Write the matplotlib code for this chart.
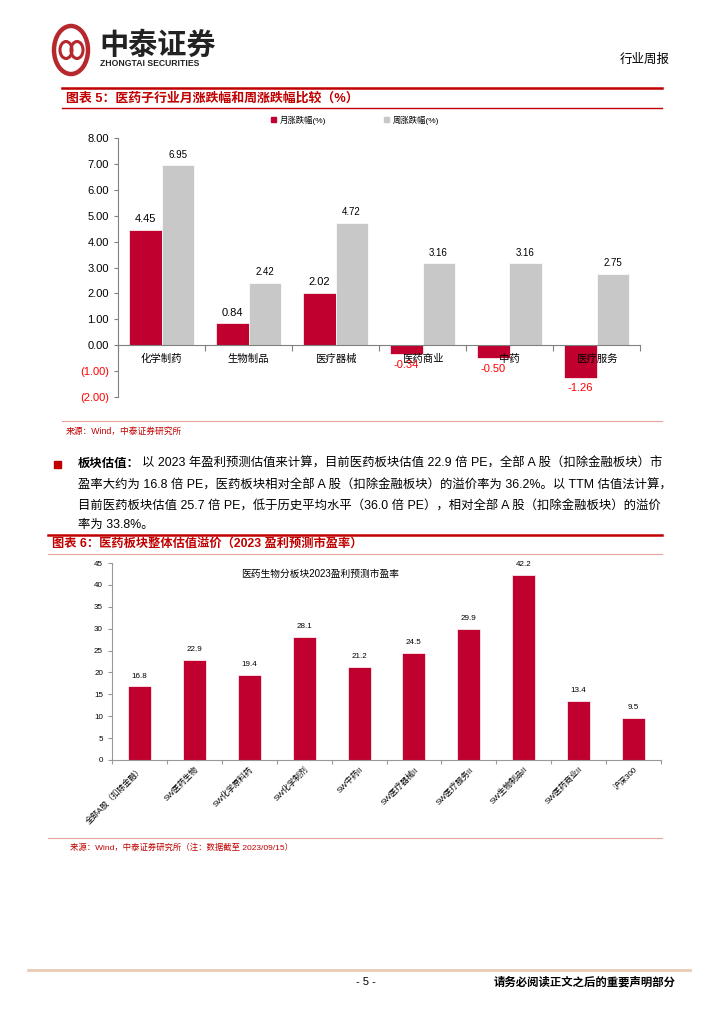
import numpy as np
import matplotlib
matplotlib.use("Agg")
import matplotlib.pyplot as plt
from matplotlib.patches import Circle, Rectangle, Patch
from matplotlib.lines import Line2D

plt.rcParams['font.family'] = ['Liberation Sans', 'Noto Sans CJK SC', 'DejaVu Sans']

# chart 1 data
sub_industries = ["化学制药", "生物制品", "医疗器械", "医药商业", "中药", "医疗服务"]
month_change = [4.45, 0.84, 2.02, -0.34, -0.50, -1.26]
week_change = [6.95, 2.42, 4.72, 3.16, 3.16, 2.75]
y1_ticks = [-2, -1, 0, 1, 2, 3, 4, 5, 6, 7, 8]

# chart 2 data
pe_labels = ["全部A股（扣除金融）", "SW医药生物", "SW化学原料药", "SW化学制剂", "SW中药II",
             "SW医疗器械II", "SW医疗服务II", "SW生物制品II", "SW医药商业II", "沪深300"]
pe_values = [16.8, 22.9, 19.4, 28.1, 21.2, 24.5, 29.9, 42.2, 13.4, 9.5]

RED = "#C0002F"
GREY = "#C8C8C8"
TITLE_RED = "#C00000"

W, H = 724, 1024
fig = plt.figure(figsize=(W / 100, H / 100), dpi=100)


def rect(x0, y0, x1, y1):
    return [x0 / W, 1 - y1 / H, (x1 - x0) / W, (y1 - y0) / H]


def fx(x):
    return x / W


def fy(y):
    return 1 - y / H


def hline(y, x0, x1, color, lw):
    fig.add_artist(Line2D([fx(x0), fx(x1)], [fy(y), fy(y)], color=color, lw=lw,
                          transform=fig.transFigure))


# header
fig.add_artist(Circle((fx(71), fy(50)), 17 / W, transform=fig.transFigure,
                      fill=False, ec="#B5282E", lw=3.2))
fig.add_artist(Circle((fx(66), fy(50)), 6 / W, transform=fig.transFigure,
                      fill=False, ec="#B5282E", lw=2.2))
fig.add_artist(Circle((fx(77), fy(50)), 6 / W, transform=fig.transFigure,
                      fill=False, ec="#B5282E", lw=2.2))
fig.text(fx(99), fy(46), "中泰证券", fontsize=21, fontweight="bold", va="center", ha="left",
         color="#222222")
fig.text(fx(100), fy(64), "ZHONGTAI SECURITIES", fontsize=6.2, fontweight="bold", va="center",
         ha="left", color="#222222")
fig.text(fx(670), fy(60), "行业周报", fontsize=9, ha="right", va="center")

# chart 1 title
hline(88, 62, 662, TITLE_RED, 1.8)
fig.text(fx(66), fy(99), "图表 5：医药子行业月涨跌幅和周涨跌幅比较（%）", fontsize=9.3,
         fontweight="bold", color=TITLE_RED, va="center", ha="left")
hline(108, 62, 662, TITLE_RED, 1.0)

# chart 1
ax1 = fig.add_axes(rect(118, 138, 640, 397))
x = np.arange(len(sub_industries))
w = 0.37
ax1.bar(x - w / 2, month_change, w, color=RED, edgecolor="white", linewidth=0.5)
ax1.bar(x + w / 2, week_change, w, color=GREY, edgecolor="white", linewidth=0.5)
ax1.set_xlim(-0.5, len(sub_industries) - 0.5)
ax1.set_ylim(-2, 8)
for s in ["top", "right"]:
    ax1.spines[s].set_visible(False)
ax1.spines["bottom"].set_position(("data", 0))
ax1.spines["bottom"].set_color("#808080")
ax1.spines["left"].set_color("#808080")
ax1.set_yticks(y1_ticks)
ax1.set_yticklabels([f"({abs(v):.2f})" if v < 0 else f"{v:.2f}" for v in y1_ticks], fontsize=8)
for lbl, v in zip(ax1.get_yticklabels(), y1_ticks):
    lbl.set_color("red" if v < 0 else "black")
ax1.tick_params(axis="y", length=3, color="#808080")
ax1.set_xticks(np.arange(-0.5, len(sub_industries), 1))
ax1.set_xticklabels([])
ax1.tick_params(axis="x", which="major", length=4, color="#808080", direction="out")
ax1.set_xticks(x, minor=True)
ax1.set_xticklabels(sub_industries, minor=True, fontsize=7.5)
ax1.tick_params(axis="x", which="minor", length=0, pad=6)

for xi, v in zip(x - w / 2, month_change):
    if v >= 0:
        ax1.annotate(f"{v:.2f}", (xi, v), xytext=(0, 4), textcoords="offset points",
                     ha="center", va="bottom", fontsize=8)
    else:
        ax1.annotate(f"{v:.2f}", (xi, v), xytext=(0, -4), textcoords="offset points",
                     ha="center", va="top", fontsize=8, color="red")
for xi, v in zip(x + w / 2, week_change):
    ax1.annotate(f"{v:.2f}", (xi, v), xytext=(0, 4), textcoords="offset points",
                 ha="center", va="bottom", fontsize=7)

fig.legend(handles=[Patch(color=RED), Patch(color=GREY)],
           labels=["月涨跌幅(%)", "周涨跌幅(%)"], loc="center",
           bbox_to_anchor=(fx(355), fy(120)), ncol=2, frameon=False, fontsize=6,
           handlelength=0.6, handleheight=0.6, handletextpad=0.4, columnspacing=7)

# source 1
hline(421, 62, 662, "#E8A0A0", 0.8)
fig.text(fx(66), fy(431), "来源：Wind，中泰证券研究所", fontsize=6.3, color=TITLE_RED,
         va="center", ha="left")

# paragraph
fig.add_artist(Rectangle((fx(54), fy(468)), 7 / W, 7 / H, transform=fig.transFigure,
                         color=TITLE_RED))
fig.text(fx(78), fy(464), "板块估值：", fontsize=8.9, fontweight="bold", va="center", ha="left")
para = [
    (142, 464, "以 2023 年盈利预测估值来计算，目前医药板块估值 22.9 倍 PE，全部 A 股（扣除金融板块）市"),
    (78, 486, "盈率大约为 16.8 倍 PE，医药板块相对全部 A 股（扣除金融板块）的溢价率为 36.2%。以 TTM 估值法计算，"),
    (78, 507, "目前医药板块估值 25.7 倍 PE，低于历史平均水平（36.0 倍 PE），相对全部 A 股（扣除金融板块）的溢价"),
    (78, 525, "率为 33.8%。"),
]
for px, py, line in para:
    fig.text(fx(px), fy(py), line, fontsize=8.9, va="center", ha="left")

# chart 2 title
hline(535, 48, 662, TITLE_RED, 1.8)
fig.text(fx(52), fy(544), "图表 6：医药板块整体估值溢价（2023 盈利预测市盈率）", fontsize=8.8,
         fontweight="bold", color=TITLE_RED, va="center", ha="left")
hline(554, 48, 662, "#E8A0A0", 0.8)

# chart 2
ax2 = fig.add_axes(rect(112, 563, 661, 760))
x2 = np.arange(len(pe_labels))
ax2.bar(x2, pe_values, 0.42, color=RED, edgecolor="white", linewidth=0.5)
ax2.set_xlim(-0.5, len(pe_labels) - 0.5)
ax2.set_ylim(0, 45)
for s in ["top", "right"]:
    ax2.spines[s].set_visible(False)
ax2.spines["bottom"].set_color("#999999")
ax2.spines["left"].set_color("#999999")
ax2.set_yticks(np.arange(0, 46, 5))
ax2.tick_params(axis="y", labelsize=5.8, length=3, color="#999999")
ax2.set_xticks(np.arange(-0.5, len(pe_labels), 1))
ax2.set_xticklabels([])
ax2.tick_params(axis="x", which="major", length=3, color="#999999")
ax2.set_xticks(x2, minor=True)
ax2.set_xticklabels(pe_labels, minor=True, fontsize=5.8, rotation=45, ha="right",
                    rotation_mode="anchor")
ax2.tick_params(axis="x", which="minor", length=0, pad=4)
for xi, v in zip(x2, pe_values):
    ax2.annotate(f"{v:.1f}", (xi, v), xytext=(0, 5), textcoords="offset points",
                 ha="center", va="bottom", fontsize=5.8)
fig.text(fx(320), fy(574), "医药生物分板块2023盈利预测市盈率", fontsize=7, ha="center", va="center")

# source 2
hline(838, 48, 662, "#E8A0A0", 0.8)
fig.text(fx(70), fy(848), "来源：Wind，中泰证券研究所（注：数据截至 2023/09/15）", fontsize=6,
         color=TITLE_RED, va="center", ha="left")

# footer
hline(970, 28, 690, "#E8CBB5", 2)
fig.text(fx(366), fy(982), "- 5 -", fontsize=8, ha="center", va="center")
fig.text(fx(676), fy(982), "请务必阅读正文之后的重要声明部分", fontsize=8.2, fontweight="bold",
         ha="right", va="center")

fig.savefig("out.png", dpi=100)
